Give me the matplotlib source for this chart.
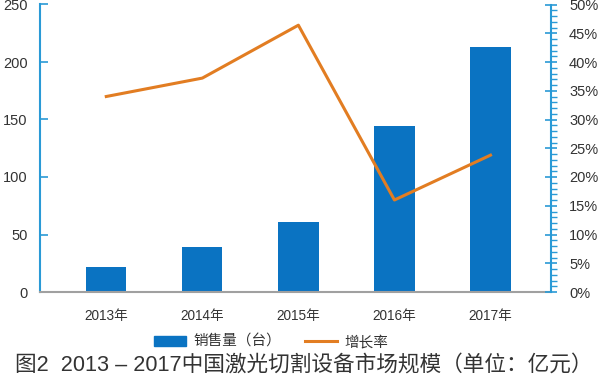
import matplotlib
matplotlib.use("Agg")
import matplotlib.pyplot as plt
from matplotlib.ticker import MultipleLocator, PercentFormatter
from matplotlib.patches import Patch
from matplotlib.lines import Line2D

plt.rcParams['font.family'] = ['Liberation Sans', 'Noto Sans CJK SC', 'DejaVu Sans']

years = ["2013年", "2014年", "2015年", "2016年", "2017年"]
sales = [22, 39, 61, 144, 213]
growth = [34.0, 37.2, 46.4, 16.0, 23.8]
left_ticks = [0, 50, 100, 150, 200, 250]
title = "图2  2013 – 2017中国激光切割设备市场规模（单位：亿元）"

bar_color = "#0a73c2"
line_color = "#e27d22"
axis_blue = "#2a9ad6"
text_color = "#333333"

fig = plt.figure(figsize=(6, 3.82), dpi=100)
ax = fig.add_axes([40/600, 1-292/382, 511/600, 287.5/382])
x = list(range(len(years)))
ax.bar(x, sales, width=0.42, color=bar_color, zorder=2)
ax.set_xlim(-0.69, 4.63)
ax.set_ylim(0, 250)
ax.set_yticks(left_ticks)
ax.set_xticks(x)
ax.set_xticklabels(years, fontsize=9.8, color=text_color)
ax.tick_params(axis='x', length=0, pad=12)
ax.tick_params(axis='y', direction='in', length=6, width=1.2, color=axis_blue,
               labelsize=10.5, labelcolor=text_color, pad=9)
for s in ['top', 'right']:
    ax.spines[s].set_visible(False)
ax.spines['left'].set_color(axis_blue)
ax.spines['left'].set_linewidth(1.5)
ax.spines['bottom'].set_color("#a0a0a0")
ax.spines['bottom'].set_linewidth(1.5)

ax2 = ax.twinx()
ax2.plot(x, growth, color=line_color, linewidth=2.2, zorder=3)
ax2.set_ylim(0, 50)
ax2.yaxis.set_major_locator(MultipleLocator(5))
ax2.yaxis.set_minor_locator(MultipleLocator(1))
ax2.yaxis.set_major_formatter(PercentFormatter(decimals=0))
ax2.tick_params(axis='y', which='major', direction='inout', length=8, width=1.2,
                color=axis_blue, labelsize=10.5, labelcolor=text_color, pad=9)
ax2.tick_params(axis='y', which='minor', direction='out', length=4, width=1.0,
                color=axis_blue)
for s in ['top', 'left', 'bottom']:
    ax2.spines[s].set_visible(False)
ax2.spines['right'].set_color(axis_blue)
ax2.spines['right'].set_linewidth(1.5)

handles = [Patch(color=bar_color, label="销售量（台）"),
           Line2D([0], [0], color=line_color, linewidth=2.2, label="增长率")]
fig.legend(handles=handles, loc='center', bbox_to_anchor=(271/600, 1-342/382),
           ncol=2, frameon=False, fontsize=10.5, handlelength=2.2, handleheight=0.7,
           columnspacing=1.6, handletextpad=0.5, labelcolor=text_color)

fig.text(304/600, 1-365/382, title, ha='center', va='center', fontsize=15.6,
         color=text_color)

fig.savefig("out.png", dpi=100)
